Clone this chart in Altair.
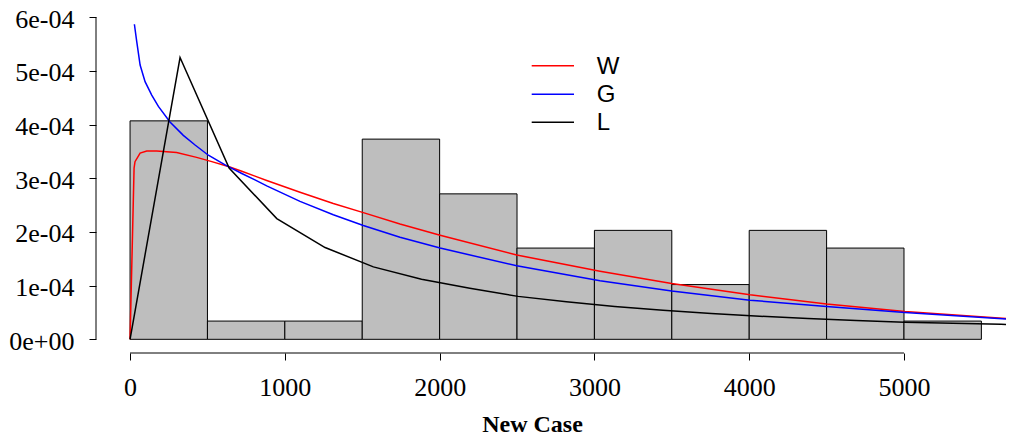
import altair as alt
import pandas as pd

# ---- data ----
bin_start = [0, 500, 1000, 1500, 2000, 2500, 3000, 3500, 4000, 4500, 5000]
bin_width = 500
density = [4.07e-4, 0.34e-4, 0.34e-4, 3.73e-4, 2.71e-4, 1.70e-4,
           2.03e-4, 1.02e-4, 2.03e-4, 1.70e-4, 0.34e-4]

w_x = [0, 26, 32, 65, 108, 172, 301, 430, 517, 635, 722, 807, 883, 1098, 1313,
       1507, 1744, 2003, 2498, 3036, 3499, 4005, 4500, 5006, 5704]
w_y = [0, 3.19, 3.31, 3.47, 3.51, 3.51, 3.48, 3.39, 3.32, 3.22, 3.13, 3.04, 2.96,
       2.74, 2.53, 2.36, 2.15, 1.94, 1.57, 1.27, 1.04, 0.83, 0.66, 0.52, 0.38]

g_x = [28, 43, 65, 97, 140, 183, 258, 344, 420, 506, 614, 722, 807, 883, 1098,
       1313, 1507, 1744, 2003, 2498, 3036, 3499, 4005, 4500, 5006, 5704]
g_y = [5.87, 5.55, 5.11, 4.80, 4.55, 4.34, 4.05, 3.80, 3.62, 3.43, 3.25, 3.09,
       2.97, 2.86, 2.57, 2.32, 2.12, 1.90, 1.70, 1.37, 1.09, 0.90, 0.73, 0.61,
       0.50, 0.37]

l_x = [0, 323, 640, 948, 1260, 1572, 1883, 2195, 2507, 2819, 3131, 3443, 3755,
       4067, 4379, 4691, 5003, 5315, 5627, 5939]
l_y = [0, 5.25, 3.19, 2.25, 1.71, 1.35, 1.12, 0.95, 0.80, 0.70, 0.61, 0.54, 0.48,
       0.43, 0.39, 0.35, 0.32, 0.30, 0.28, 0.26]

series_names = ["W", "G", "L"]
series_colors = ["#FF0000", "#0000FF", "#000000"]
legend_labels = ["W", "\u00a0G", "\u00a0L"]

x_ticks = [0, 1000, 2000, 3000, 4000, 5000]
y_ticks = [0, 1e-4, 2e-4, 3e-4, 4e-4, 5e-4, 6e-4]
y_tick_labels = ["0e+00", "1e-04", "2e-04", "3e-04", "4e-04", "5e-04", "6e-04"]
x_title = "New Case"

# ---- tables ----
bars = pd.DataFrame({"start": bin_start,
                     "end": [s + bin_width for s in bin_start],
                     "density": density})
curves = [pd.DataFrame({"x": xs, "y": [v * 1e-4 for v in ys]})
          for xs, ys in [(w_x, w_y), (g_x, g_y), (l_x, l_y)]]

W, H = 910, 345
xscale = alt.Scale(domain=[-220, 5659], nice=False, zero=False)
yscale = alt.Scale(domain=[-0.255e-4, 6.173e-4], nice=False, zero=False)

label_expr = "[" + ",".join("'%s'" % t for t in y_tick_labels) + "][round(datum.value*10000)]"

xaxis = alt.Axis(values=x_ticks, format="d", domain=False, grid=False,
                 tickSize=7, tickColor="black", tickWidth=1,
                 labelFont="Liberation Serif", labelFontSize=26, labelColor="black",
                 labelPadding=14, labelFlush=False, labelOverlap=False,
                 title=x_title, titleFont="Liberation Serif", titleFontSize=24,
                 titleFontWeight="bold", titleColor="black",
                 titleX=436, titleY=78, titleBaseline="alphabetic", titleAlign="center")
yaxis = alt.Axis(values=y_ticks, labelExpr=label_expr, domain=False, grid=False,
                 tickSize=7, tickColor="black", tickWidth=1,
                 labelFont="Liberation Serif", labelFontSize=26, labelColor="black",
                 labelPadding=15, labelOffset=2, labelFlush=False, labelOverlap=False,
                 title=None)

hist = alt.Chart(bars).mark_rect(fill="#BEBEBE", stroke="black", strokeWidth=1).encode(
    x=alt.X("start:Q", scale=xscale, axis=xaxis),
    x2="end:Q",
    y=alt.Y("density:Q", scale=yscale, axis=yaxis),
    y2=alt.datum(0),
)

layers = [hist]
for df, col in zip(curves, series_colors):
    layers.append(alt.Chart(df).mark_line(color=col, strokeWidth=1.5, clip=True).encode(
        x=alt.X("x:Q", scale=xscale),
        y=alt.Y("y:Q", scale=yscale),
    ))

axis_src = pd.DataFrame({"a": [0]})
x_axis_line = alt.Chart(axis_src).mark_rule(color="black", strokeWidth=1).encode(
    x=alt.datum(x_ticks[0]), x2=alt.datum(x_ticks[-1]), y=alt.value(H))
y_axis_line = alt.Chart(axis_src).mark_rule(color="black", strokeWidth=1).encode(
    y=alt.datum(y_ticks[0]), y2=alt.datum(y_ticks[-1]), x=alt.value(0))
layers += [x_axis_line, y_axis_line]

# legend
leg_y = [57.7, 86.3, 114.3]
leg_tx = [500.7, 500.7, 500.7]
for name, col, lab, yy, tx in zip(series_names, series_colors, legend_labels, leg_y, leg_tx):
    src = pd.DataFrame({"lab": [lab]})
    layers.append(alt.Chart(src).mark_rule(color=col, strokeWidth=1.5).encode(
        x=alt.value(435.7), x2=alt.value(478), y=alt.value(yy)))
    layers.append(alt.Chart(src).mark_text(align="left", baseline="middle",
                                           font="Liberation Sans", fontSize=24,
                                           color="black").encode(
        x=alt.value(tx), y=alt.value(yy + 1), text="lab:N"))

chart = alt.layer(*layers).properties(
    width=W, height=H,
    autosize=alt.AutoSizeParams(type="none"),
    padding={"left": 88, "top": 0, "right": 0, "bottom": 82},
    background="white",
).configure_view(stroke=None)

chart.save("out.html", embed_options={"renderer": "svg", "actions": False})
